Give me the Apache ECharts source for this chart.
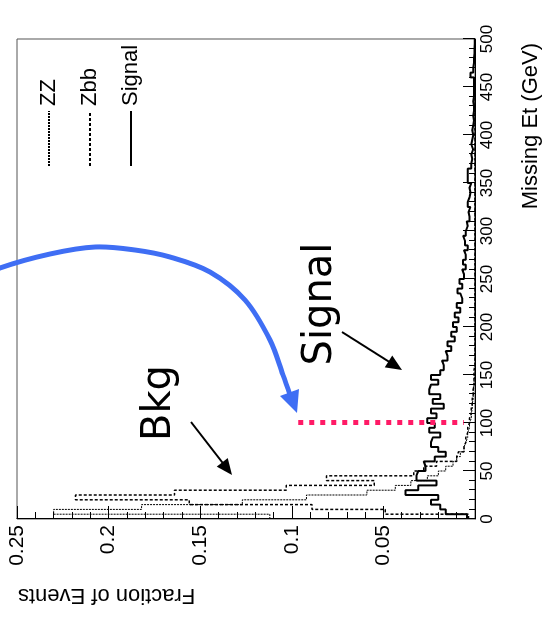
<!DOCTYPE html>
<html><head><meta charset="utf-8">
<script src="https://cdn.jsdelivr.net/npm/echarts@6/dist/echarts.min.js"></script>
<style>
html,body{margin:0;padding:0;width:545px;height:619px;overflow:hidden;background:#fff;}
#chart{position:absolute;left:0;top:0;width:619px;height:545px;transform-origin:0 0;transform:translate(0,619px) rotate(-90deg);}
</style></head><body><div id="chart"></div>
<script>
// Histogram bins: 5 GeV wide, 0..500 GeV (Missing Et); values are Fraction of Events
const BIN_WIDTH = 5;
const seriesNames = ['ZZ', 'Zbb', 'Signal'];
const zzValues = [
  0.112,0.230,0.182,0.127,0.092,0.059,0.0435,0.035,0.026,0.020,
  0.016,0.012,0.010,0.008,0.006,0.005,0.004,0.004,0.003,0.003,
  0.002,0.002,0.0015,0.0015,0.001,0.001,0.001,0.0005,0.0005,0,
  0,0,0,0,0,0,0,0,0,0, 0,0,0,0,0,0,0,0,0,0,
  0,0,0,0,0,0,0,0,0,0, 0,0,0,0,0,0,0,0,0,0,
  0,0,0,0,0,0,0,0,0,0, 0,0,0,0,0,0,0,0,0,0
];
const zbbValues = [
  0.0035,0.049,0.089,0.156,0.218,0.164,0.103,0.055,0.081,0.0335,
  0.028,0.021,0.010,0.009,0.006,0.005,0.005,0.004,0.004,0.003,
  0.003,0.002,0.002,0.0015,0.0015,0.001,0.001,0.0005,0.0005,0.0005,
  0.0005,0,0,0,0,0,0,0,0,0, 0,0,0,0,0,0,0,0,0,0,
  0,0,0,0,0,0,0,0,0,0, 0,0,0,0,0,0,0,0,0,0,
  0,0,0,0,0,0,0,0,0,0, 0,0,0,0,0,0,0,0,0,0
];
const signalValues = [
  0.0043,0.016,0.019,0.024,0.020,0.038,0.031,0.021,0.032,0.031,
  0.027,0.028,0.022,0.016,0.020,0.024,0.023,0.019,0.025,0.022,
  0.026,0.021,0.024,0.017,0.023,0.019,0.025,0.024,0.020,0.024,
  0.019,0.017,0.018,0.015,0.016,0.013,0.015,0.011,0.013,0.010,
  0.012,0.009,0.011,0.008,0.010,0.007,0.008,0.0095,0.007,0.0085,
  0.006,0.007,0.005,0.0065,0.005,0.006,0.004,0.0055,0.0065,0.005,
  0.004,0.0045,0.003,0.0035,0.0025,0.004,0.003,0.0025,0.003,0.002,
  0.004,0.004,0.004,0.002,0.0015,0.002,0.001,0.002,0.0015,0.001,
  0.0015,0.001,0.0005,0.001,0.0005,0.0005,0.001,0.0005,0.0005,0.0005,
  0.0005,0.0005,0.0025,0.001,0.0005,0.0005,0.0003,0.0003,0.0002,0.0002
];
// Axes
const etAxis = { min: 0, max: 500, interval: 50, title: 'Missing Et (GeV)' };
const fractionAxis = { min: 0, max: 0.25, interval: 0.05, title: 'Fraction of Events' };
// Cut line (dotted pink) at Et = 100
const cutEt = 100;
const cutFrom = 0.0965;
const cutTo = 0.006;
// Annotations
const annotationTexts = ['Bkg', 'Signal'];

const FONT = "'Liberation Sans', Arial, Helvetica, sans-serif";
const HAND = "'DejaVu Sans', 'Noto Sans', sans-serif";

function stepPoints(values) {
  const pts = values.map((v, i) => [i * BIN_WIDTH, v]);
  pts.push([values.length * BIN_WIDTH, values[values.length - 1]]);
  return pts;
}

function arrow(x1, y1, x2, y2, color, width, headLen, headHalf) {
  const dx = x2 - x1, dy = y2 - y1, L = Math.hypot(dx, dy);
  const ux = dx / L, uy = dy / L;
  const bx = x2 - ux * headLen, by = y2 - uy * headLen;
  return [
    { type: 'line', silent: true, z: 100, shape: { x1: x1, y1: y1, x2: bx + ux * 2, y2: by + uy * 2 },
      style: { stroke: color, lineWidth: width } },
    { type: 'polygon', silent: true, z: 100,
      shape: { points: [[x2, y2], [bx - uy * headHalf, by + ux * headHalf], [bx + uy * headHalf, by - ux * headHalf]] },
      style: { fill: color } }
  ];
}

const chart = echarts.init(document.getElementById('chart'), null, { renderer: 'canvas' });

const graphics = [
  { type: 'text', silent: true, x: 576, y: 531,
    style: { text: etAxis.title, font: '22px ' + FONT, fill: '#000', align: 'right', verticalAlign: 'middle' } },
  { type: 'text', silent: true, x: 24, y: 18, rotation: Math.PI / 2,
    style: { text: fractionAxis.title, font: '22px ' + FONT, fill: '#000', align: 'right', verticalAlign: 'middle' } },
  { type: 'text', silent: true, x: 216, y: 160, z: 100,
    style: { text: annotationTexts[0], font: '40px ' + HAND, fill: '#000', align: 'center', verticalAlign: 'middle' } },
  { type: 'text', silent: true, x: 315, y: 321, z: 100,
    style: { text: annotationTexts[1], font: '40px ' + HAND, fill: '#000', align: 'center', verticalAlign: 'middle' } },
  { type: 'polyline', silent: true, z: 100,
    shape: { points: [[344, -10], [351, 0], [365, 50], [372, 95], [369, 135], [362, 170], [347, 210], [319, 245], [279, 270], [244, 283], [224, 290]], smooth: 0.35 },
    style: { stroke: '#3f6ef4', lineWidth: 5, fill: null } },
  { type: 'polygon', silent: true, z: 100,
    shape: { points: [[206, 297], [223, 280], [230, 299]] },
    style: { fill: '#3f6ef4' } }
].concat(arrow(197, 191, 144, 232, '#000', 2, 16, 7))
 .concat(arrow(287, 342, 249, 402, '#000', 2, 16, 7));

chart.setOption({
  animation: false,
  backgroundColor: '#fff',
  grid: { left: 100, right: 39, top: 17, bottom: 70, show: true, borderColor: '#555', borderWidth: 1, backgroundColor: 'transparent' },
  legend: {
    data: seriesNames, orient: 'vertical', left: 447, top: 33,
    itemWidth: 55, itemHeight: 14, itemGap: 19,
    itemStyle: { opacity: 0 },
    textStyle: { fontFamily: FONT, fontSize: 22, color: '#000' },
    selectedMode: false
  },
  xAxis: {
    type: 'value', min: etAxis.min, max: etAxis.max, interval: etAxis.interval,
    axisLine: { show: true, onZero: false, lineStyle: { color: '#000', width: 1 } },
    axisTick: { show: true, inside: true, length: 12, lineStyle: { color: '#000' } },
    minorTick: { show: true, splitNumber: 5, length: 6, lineStyle: { color: '#000' } },
    splitLine: { show: false },
    axisLabel: { color: '#000', fontFamily: FONT, fontSize: 17, margin: 4 }
  },
  yAxis: {
    type: 'value', min: fractionAxis.min, max: fractionAxis.max, interval: fractionAxis.interval,
    axisLine: { show: true, onZero: false, lineStyle: { color: '#000', width: 1 } },
    axisTick: { show: true, inside: true, length: 13, lineStyle: { color: '#000' } },
    minorTick: { show: true, splitNumber: 5, length: 7, lineStyle: { color: '#000' } },
    splitLine: { show: false },
    axisLabel: { color: '#000', fontFamily: FONT, fontSize: 21, margin: 6,
      formatter: v => (v === 0 ? '' : String(+v.toFixed(2))) }
  },
  series: [
    { name: seriesNames[0], type: 'line', step: 'end', symbol: 'none', data: stepPoints(zzValues),
      lineStyle: { color: '#000', width: 1, type: [2, 1] }, itemStyle: { color: '#000' }, z: 2 },
    { name: seriesNames[1], type: 'line', step: 'end', symbol: 'none', data: stepPoints(zbbValues),
      lineStyle: { color: '#000', width: 1.5, type: [3, 2] }, itemStyle: { color: '#000' }, z: 3 },
    { name: seriesNames[2], type: 'line', step: 'end', symbol: 'none', data: stepPoints(signalValues),
      lineStyle: { color: '#000', width: 2 }, itemStyle: { color: '#000' }, z: 4,
      markLine: { silent: true, symbol: ['none', 'none'], label: { show: false }, z: 10,
        lineStyle: { color: '#ff1a66', width: 5, type: [5, 6], cap: 'butt' },
        data: [[{ coord: [cutEt, cutFrom] }, { coord: [cutEt, cutTo] }]] } }
  ],
  graphic: graphics
});
</script></body></html>
